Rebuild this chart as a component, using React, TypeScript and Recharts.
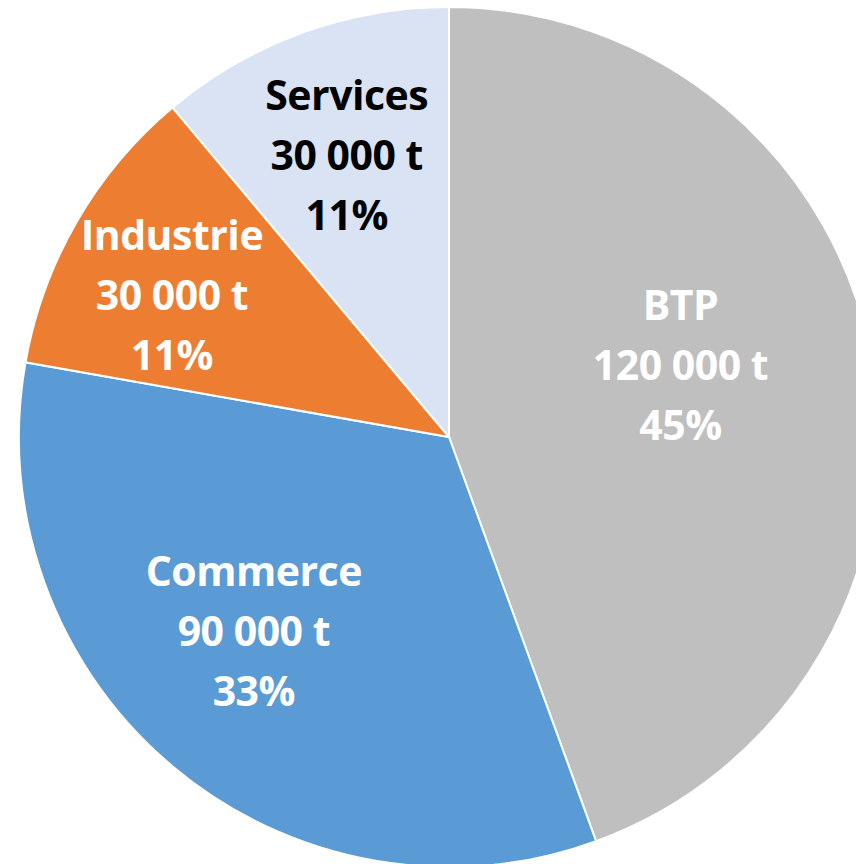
import { PieChart, Pie, Cell } from 'recharts';

const categories = ['BTP', 'Commerce', 'Industrie', 'Services'];
const tonnes = [120000, 90000, 30000, 30000];
const percentLabels = ['45%', '33%', '11%', '11%'];
const colors = ['#BFBFBF', '#5B9BD5', '#ED7D31', '#DAE3F3'];
const textColors = ['#FFFFFF', '#FFFFFF', '#FFFFFF', '#000000'];

const data = categories.map((name, i) => ({
  name,
  value: tonnes[i],
  pct: percentLabels[i],
}));

// label placement tweaks (distance from centre, angle nudge in degrees)
const labelRadius = [242, 276, 311, 299];
const labelNudge = [7, -5, 3, 0];

const RAD = Math.PI / 180;

const formatTonnes = (v: number) =>
  String(v).replace(/\B(?=(\d{3})+(?!\d))/g, ' ') + ' t';

function renderLabel(props: any) {
  const { cx, cy, midAngle, index } = props;
  const a = (midAngle + labelNudge[index]) * RAD;
  const x = cx + labelRadius[index] * Math.cos(a);
  const y = cy - labelRadius[index] * Math.sin(a);
  const d = data[index];
  return (
    <text
      x={x}
      y={y}
      textAnchor="middle"
      fill={textColors[index]}
      fontFamily="'Open Sans', sans-serif"
      fontWeight="bold"
      fontSize={41}
      letterSpacing={-0.5}
    >
      <tspan x={x} dy={-60 + 14}>{d.name}</tspan>
      <tspan x={x} dy={60}>{formatTonnes(d.value)}</tspan>
      <tspan x={x} dy={60}>{d.pct}</tspan>
    </text>
  );
}

export default function App() {
  return (
    <div style={{ position: 'absolute', left: 0, top: 0, width: 856, height: 864, background: '#fff', overflow: 'hidden' }}>
      <PieChart width={856} height={864} margin={{ top: 0, right: 0, bottom: 0, left: 0 }}>
        <Pie
          data={data}
          dataKey="value"
          cx={449}
          cy={437}
          outerRadius={430}
          startAngle={90}
          endAngle={-270}
          stroke="#FFFFFF"
          strokeWidth={2}
          label={renderLabel}
          labelLine={false}
          isAnimationActive={false}
        >
          {data.map((entry, i) => (
            <Cell key={`cell-${i}`} fill={colors[i]} />
          ))}
        </Pie>
      </PieChart>
    </div>
  );
}
